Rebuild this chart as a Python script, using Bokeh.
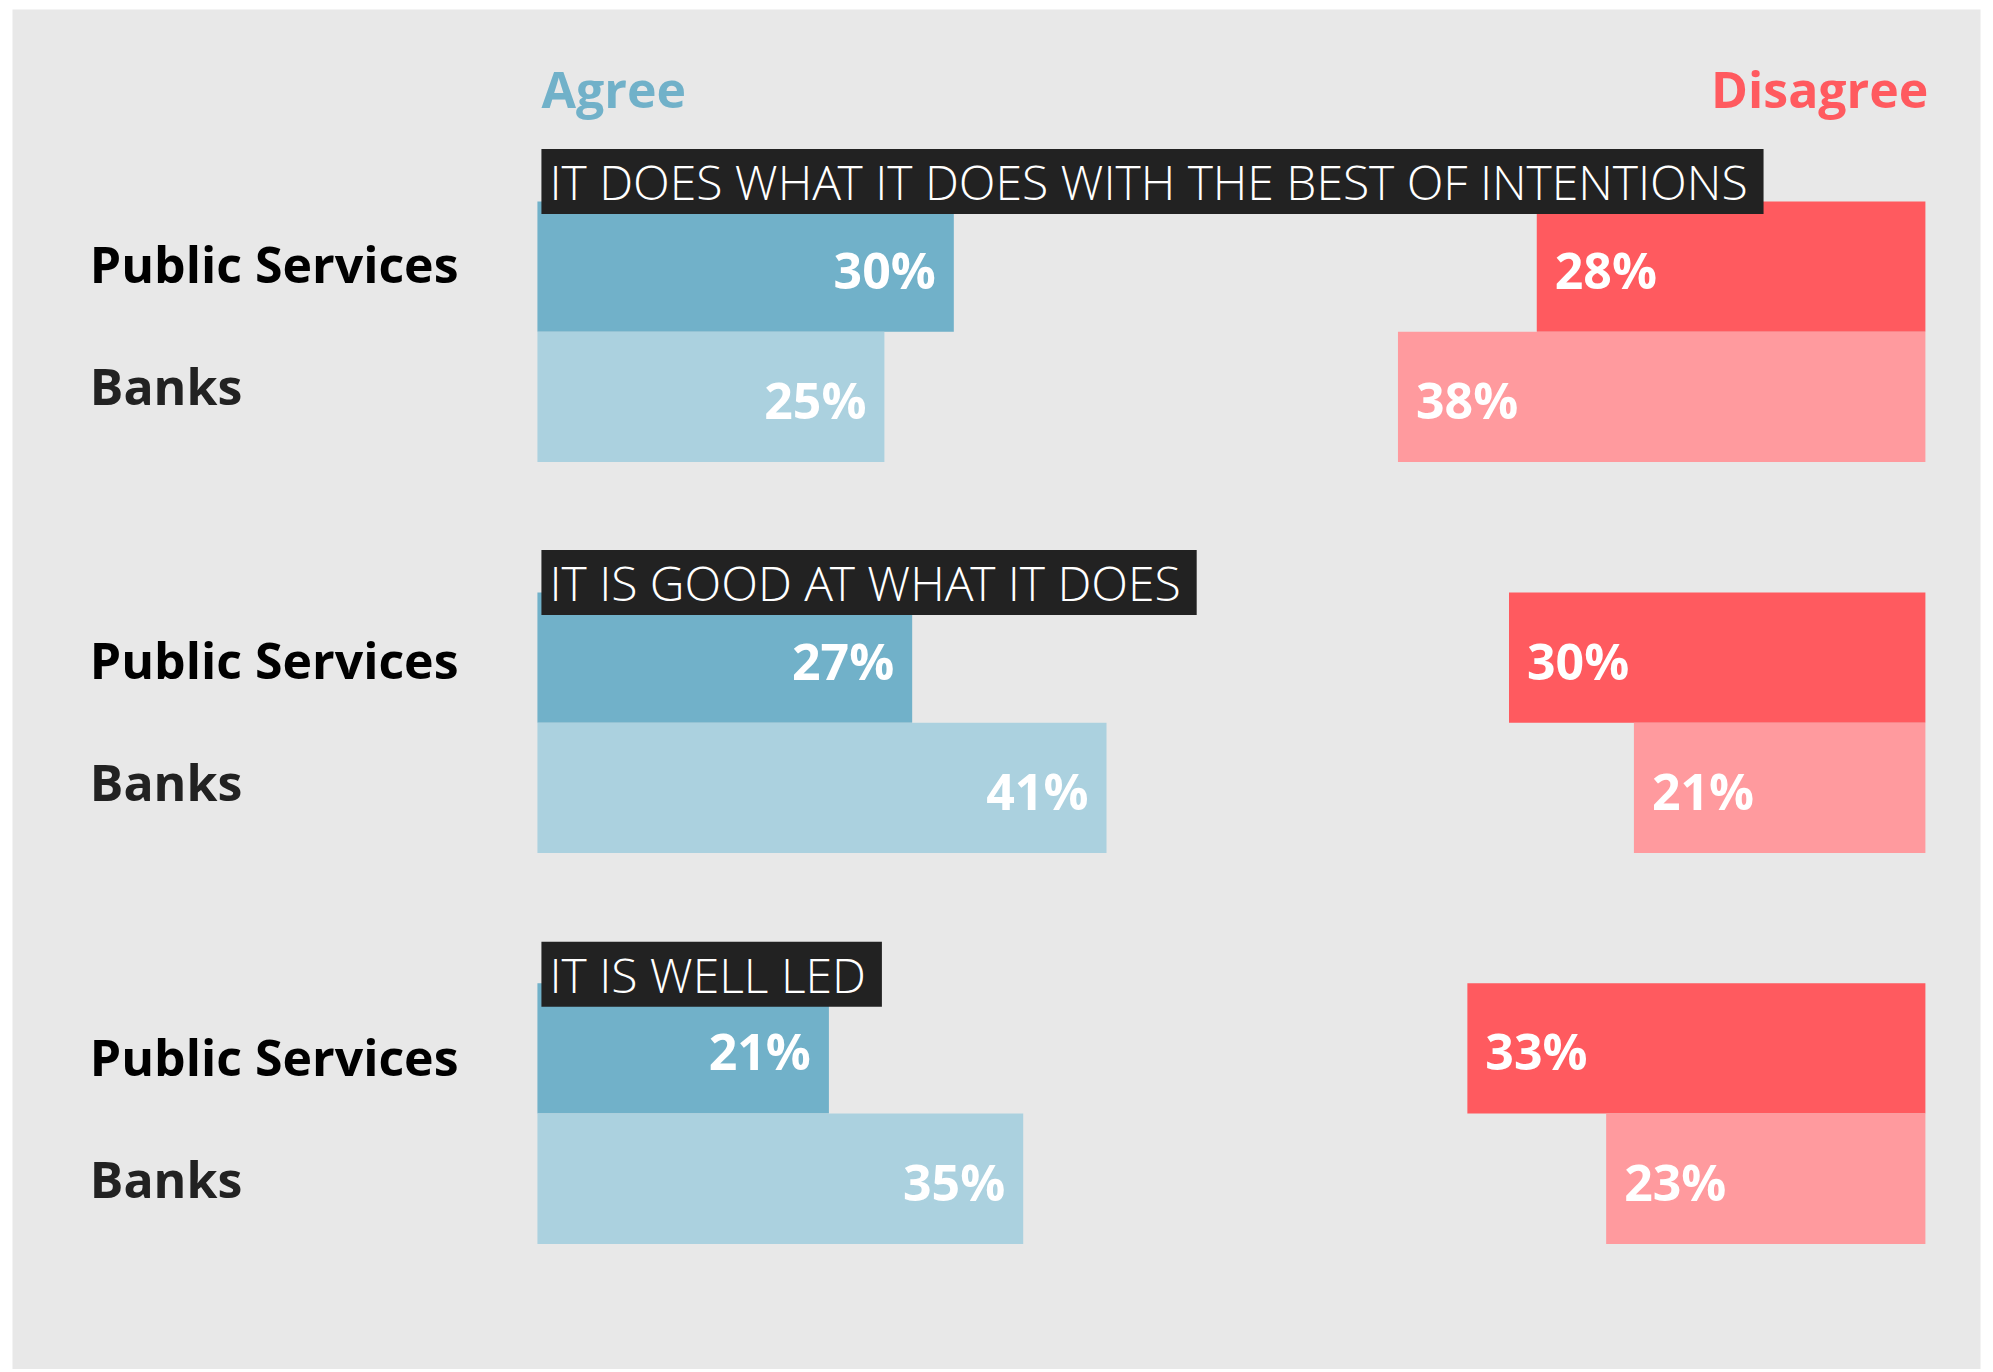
from bokeh.plotting import figure
from bokeh.models import Range1d, Label, ColumnDataSource
from bokeh.core.properties import value
from bokeh.embed import file_html
from bokeh.resources import INLINE

# ---------------- data ----------------
statements = [
    "IT DOES WHAT IT DOES WITH THE BEST OF INTENTIONS",
    "IT IS GOOD AT WHAT IT DOES",
    "IT IS WELL LED",
]
groups = ["Public Services", "Banks"]
agree_public = [30, 27, 21]
agree_banks = [25, 41, 35]
disagree_public = [28, 30, 33]
disagree_banks = [38, 21, 23]
headers = ["Agree", "Disagree"]

# ---------------- style / layout ----------------
W, H = 1984, 1369
BORDER_L, BORDER_R, BORDER_T = 12, 4, 9
FRAME_H = H - BORDER_T
PX_PER_UNIT = 130.3
PY = 1.0 / PX_PER_UNIT                   # data units per pixel (vertical)
X0, X1 = -37.82, 103.97
Y_TOP = -1.4735
Y_BOT = Y_TOP + FRAME_H * PY
PITCH = 3                                # two bars + one gap per statement
LABEL_PITCH = 3.044
LABEL_Y0 = 0.632
LABEL_GAP = 0.934
LABEL_X = -32.25
BASE_FIX = -20                           # renderer baseline correction (px)
TITLE_NUDGE = [-20, -10, -9]             # px, title anchor relative to bar top
HEADER_Y = Y_TOP + 99 * PY

FONT_NAME = "Open Sans"
FONT = value(FONT_NAME)
TITLE_FONT = "'Open Sans Light', 'Open Sans'"
BG = "#e8e8e8"
C_AGREE = ["#71b1c9", "#abd1df"]
C_DIS = ["#ff5a5f", "#ff9a9e"]
C_LABEL = ["#000000", "#222222"]

rows_y, a_vals, d_vals, a_col, d_col = [], [], [], [], []
for g in range(len(statements)):
    for k, (av, dv) in enumerate([(agree_public[g], disagree_public[g]),
                                  (agree_banks[g], disagree_banks[g])]):
        rows_y.append(PITCH * g + k + 0.5)
        a_vals.append(av)
        d_vals.append(dv)
        a_col.append(C_AGREE[k])
        d_col.append(C_DIS[k])

src = ColumnDataSource(dict(
    y=rows_y,
    agree=a_vals,
    dis_left=[100 - v for v in d_vals],
    a_txt=[f"{v}%" for v in a_vals],
    d_txt=[f"{v}%" for v in d_vals],
    a_col=a_col,
    d_col=d_col,
))

p = figure(width=W, height=H, x_range=Range1d(X0, X1), y_range=Range1d(Y_BOT, Y_TOP),
           output_backend="svg", toolbar_location=None,
           x_axis_type=None, y_axis_type=None,
           min_border_left=BORDER_L, min_border_right=BORDER_R, min_border_top=BORDER_T,
           min_border_bottom=0,
           border_fill_color="white", background_fill_color=BG, outline_line_color=None)
p.grid.visible = False

p.hbar(y="y", left=0, right="agree", height=1, fill_color="a_col", line_color=None, source=src)
p.hbar(y="y", left="dis_left", right=100, height=1, fill_color="d_col", line_color=None, source=src)

p.text(x="agree", y="y", text="a_txt", source=src, text_align="right", text_baseline="alphabetic",
       x_offset=-18, y_offset=23 + BASE_FIX, text_color="white", text_font=FONT,
       text_font_style="bold", text_font_size="50px")
p.text(x="dis_left", y="y", text="d_txt", source=src, text_align="left", text_baseline="alphabetic",
       x_offset=18, y_offset=23 + BASE_FIX, text_color="white", text_font=FONT,
       text_font_style="bold", text_font_size="50px")

# row labels
lab_x, lab_y, lab_t, lab_c = [], [], [], []
for g in range(len(statements)):
    for k, name in enumerate(groups):
        lab_x.append(LABEL_X)
        lab_y.append(LABEL_Y0 + LABEL_PITCH * g + LABEL_GAP * k)
        lab_t.append(name)
        lab_c.append(C_LABEL[k])
p.text(x=lab_x, y=lab_y, text=lab_t, text_color=lab_c, text_align="left", y_offset=BASE_FIX,
       text_baseline="alphabetic", text_font=FONT, text_font_style="bold", text_font_size="50px")

# headers
p.text(x=[0], y=[HEADER_Y], text=[headers[0]], x_offset=4, y_offset=BASE_FIX, text_align="left",
       text_baseline="alphabetic", text_color=C_AGREE[0], text_font=FONT,
       text_font_style="bold", text_font_size="50px")
p.text(x=[100], y=[HEADER_Y], text=[headers[1]], x_offset=3, y_offset=BASE_FIX, text_align="right",
       text_baseline="alphabetic", text_color=C_DIS[0], text_font=FONT,
       text_font_style="bold", text_font_size="50px")

# statement titles (padding order: left, right, top, bottom)
for g, s in enumerate(statements):
    p.add_layout(Label(x=0, y=PITCH * g + TITLE_NUDGE[g] * PY, x_offset=4, text=s,
                       text_align="left", text_baseline="alphabetic", text_color="white",
                       text_font=TITLE_FONT, text_font_size="48px",
                       background_fill_color="#222222", padding=(8, 16, 0, 0)))

open("out.html", "w").write(file_html(p, INLINE))
